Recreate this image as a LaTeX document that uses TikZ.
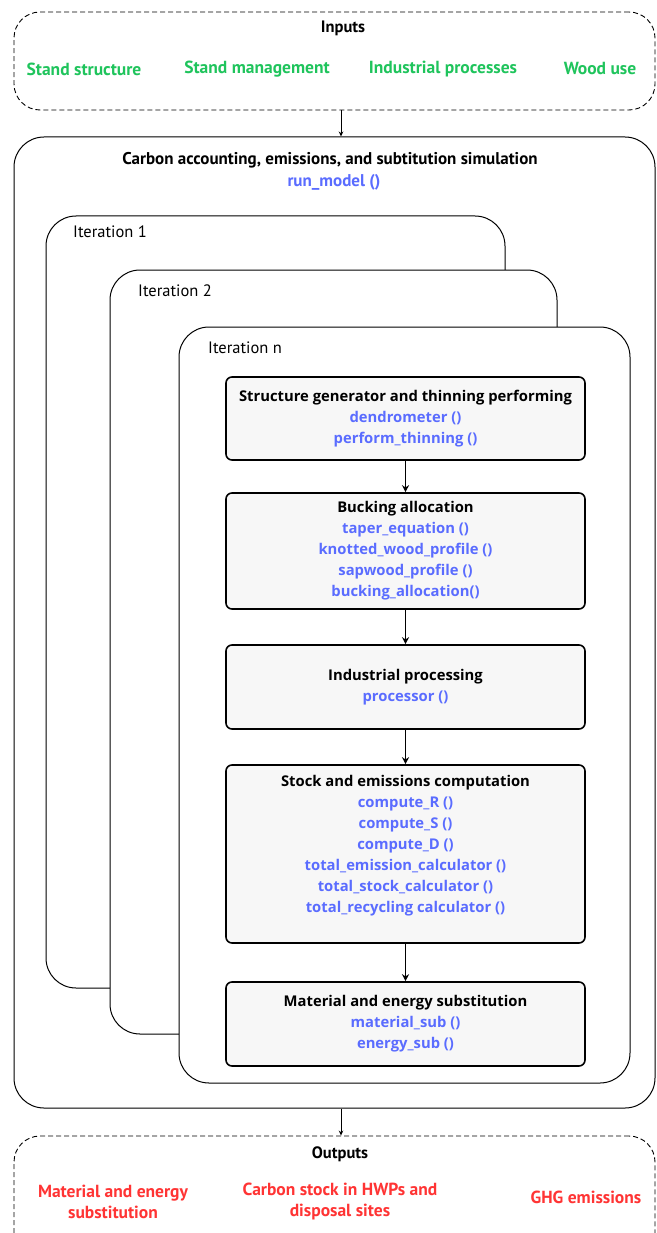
\documentclass[tikz,border=0pt]{standalone}
\usepackage{fontspec}
\setmainfont{PT Sans}
\newfontfamily\boxfont{Open Sans}
\usetikzlibrary{arrows.meta}
\definecolor{fnblue}{HTML}{5A6CFF}
\definecolor{ingreen}{HTML}{1FC45C}
\definecolor{outred}{HTML}{FF3434}
\definecolor{boxgray}{HTML}{F7F7F7}
\begin{document}
\begin{tikzpicture}[x=1pt,y=-1pt,
  every node/.style={font=\fontsize{14}{21}\selectfont, inner sep=0pt},
  dashbox/.style={draw, dash pattern=on 5pt off 3pt, rounded corners=26pt, line width=0.9pt, fill=white},
  bigbox/.style={draw, rounded corners=30pt, line width=1pt, fill=white},
  stepbox/.style={draw, rounded corners=6pt, line width=1.6pt, fill=boxgray,
    minimum width=359pt, align=center, font=\boxfont\fontsize{14.8}{21}\selectfont},
  ttl/.style={font=\fontsize{17}{21}\selectfont\bfseries},
  itlabel/.style={anchor=west, font=\fontsize{16.5}{21}\selectfont},
  fn/.style={text=fnblue},
  inlab/.style={text=ingreen, font=\fontsize{17.5}{21}\selectfont\bfseries},
  outlab/.style={text=outred, font=\fontsize{17.5}{21}\selectfont\bfseries, align=center},
  thinarrow/.style={-{Stealth[length=5pt,width=4.5pt]}, line width=0.9pt},
  thickarrow/.style={-{Stealth[length=7pt,width=7pt]}, line width=1.6pt}
]
\useasboundingbox (0,0) rectangle (656,1233);
\clip (0,0) rectangle (656,1233);

% Inputs
\node[dashbox, minimum width=641pt, minimum height=98pt] (inputs) at (334.5,61) {};
\node[ttl, font=\fontsize{16.5}{21}\selectfont\bfseries] (intitle) at (343,28) {Inputs};
\node[inlab] (in1) at (84,69) {Stand structure};
\node[inlab] (in2) at (257,69) {Stand management};
\node[inlab] (in3) at (443,69) {Industrial processes};
\node[inlab] (in4) at (600,69) {Wood use};

% Carbon accounting box
\node[bigbox, minimum width=641pt, minimum height=971pt] (carbon) at (334.5,622.5) {};
\node[ttl] (ctitle) at (330,160) {Carbon accounting, emissions, and subtitution simulation};
\node[fn, font=\fontsize{17}{21}\selectfont\bfseries] (runmodel) at (334,182) {run\_model ()};

% Iteration boxes
\node[bigbox, minimum width=459pt, minimum height=772pt] (it1) at (275.5,602) {};
\node[itlabel] (it1l) at (73,232) {Iteration 1};
\node[bigbox, minimum width=447pt, minimum height=764pt] (it2) at (333.5,652) {};
\node[itlabel] (it2l) at (138,291) {Iteration 2};
\node[bigbox, minimum width=451pt, minimum height=756pt] (itn) at (404.5,705) {};
\node[itlabel] (itnl) at (208,348) {Iteration n};

% Step boxes
\node[stepbox, minimum height=83pt] (b1) at (405.5,418.5)
  {\textbf{Structure generator and thinning performing}\\
   \textcolor{fnblue}{\textbf{dendrometer ()}}\\
   \textcolor{fnblue}{\textbf{perform\_thinning ()}}};
\node[stepbox, minimum height=116pt] (b2) at (405.5,551)
  {\textbf{Bucking allocation}\\
   \textcolor{fnblue}{\textbf{taper\_equation ()}}\\
   \textcolor{fnblue}{\textbf{knotted\_wood\_profile ()}}\\
   \textcolor{fnblue}{\textbf{sapwood\_profile ()}}\\
   \textcolor{fnblue}{\textbf{bucking\_allocation()}}};
\node[stepbox, minimum height=84pt] (b3) at (405.5,687)
  {\textbf{Industrial processing}\\
   \textcolor{fnblue}{\textbf{processor ()}}};
\node[stepbox, minimum height=178pt] (b4) at (405.5,854)
  {\textbf{Stock and emissions computation}\\
   \textcolor{fnblue}{\textbf{compute\_R ()}}\\
   \textcolor{fnblue}{\textbf{compute\_S ()}}\\
   \textcolor{fnblue}{\textbf{compute\_D ()}}\\
   \textcolor{fnblue}{\textbf{total\_emission\_calculator ()}}\\
   \textcolor{fnblue}{\textbf{total\_stock\_calculator ()}}\\
   \textcolor{fnblue}{\textbf{total\_recycling calculator ()}}\\
   \mbox{}};
\node[stepbox, minimum height=84pt] (b5) at (405.5,1024)
  {\textbf{Material and energy substitution}\\
   \textcolor{fnblue}{\textbf{material\_sub ()}}\\
   \textcolor{fnblue}{\textbf{energy\_sub ()}}};

\draw[thickarrow] (b1) -- (b2);
\draw[thickarrow] (b2) -- (b3);
\draw[thickarrow] (b3) -- (b4);
\draw[thickarrow] (b4) -- (b5);

% Outputs
\node[dashbox, minimum width=641pt, minimum height=130pt] (outputs) at (334.5,1201) {};
\node[ttl, font=\fontsize{16.5}{21}\selectfont\bfseries] (outtitle) at (340,1154) {Outputs};
\node[outlab] (out1) at (113,1201.5) {Material and energy\\substitution};
\node[outlab] (out2) at (340,1201.5) {Carbon stock in HWPs and\\disposal sites};
\node[outlab] (out3) at (586,1197) {GHG emissions};

\coordinate (ax) at (341,0);
\draw[thinarrow] (inputs.south -| ax) -- (carbon.north -| ax);
\draw[thinarrow] (carbon.south -| ax) -- (outputs.north -| ax);
\end{tikzpicture}
\end{document}
